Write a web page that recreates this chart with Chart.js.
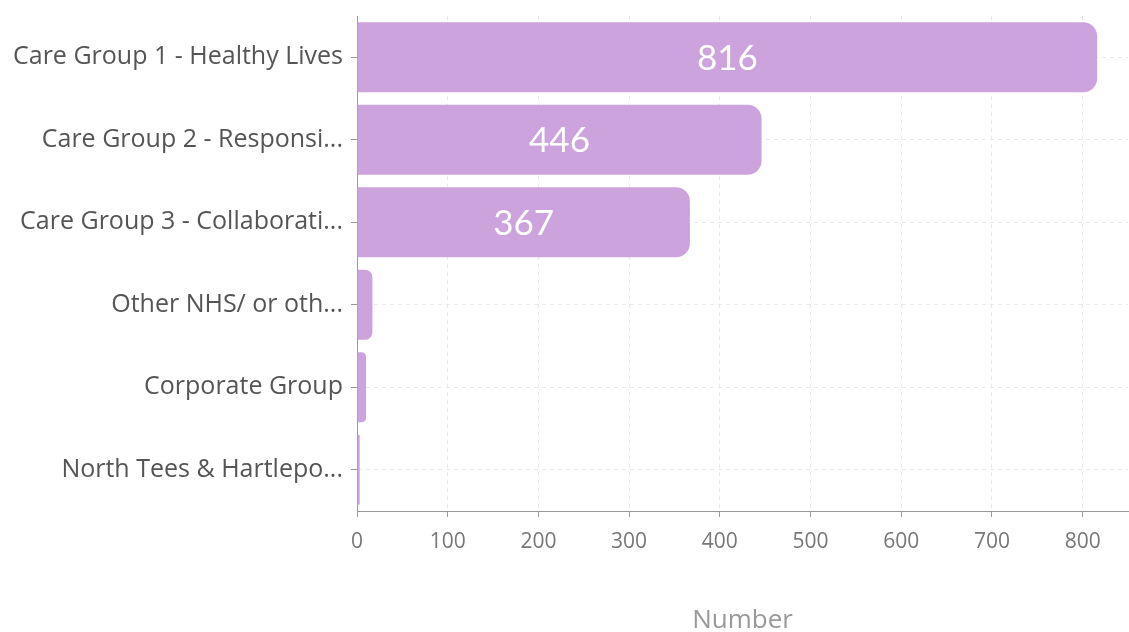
<!DOCTYPE html>
<html>
<head>
<meta charset="utf-8">
<script src="https://cdn.jsdelivr.net/npm/chart.js@4"></script>
<style>
  html, body { margin: 0; padding: 0; background: #fff; }
  #wrap { width: 1129px; height: 632px; }
</style>
</head>
<body>
<div id="wrap"><canvas id="groupChart"></canvas></div>
<script>
const groups = [
  'Care Group 1 - Healthy Lives',
  'Care Group 2 - Responsi...',
  'Care Group 3 - Collaborati...',
  'Other NHS/ or oth...',
  'Corporate Group',
  'North Tees & Hartlepo...'
];
const counts = [816, 446, 367, 17, 10, 3];
const xTicks = [0, 100, 200, 300, 400, 500, 600, 700, 800];
const axisMax = 850;

// writes the count inside the bars that are wide enough to hold it
const barValues = {
  id: 'barValues',
  afterDatasetsDraw(chart) {
    const ctx = chart.ctx;
    const meta = chart.getDatasetMeta(0);
    ctx.save();
    ctx.fillStyle = '#ffffff';
    ctx.font = '400 35px Lato, "Open Sans", sans-serif';
    ctx.textAlign = 'center';
    ctx.textBaseline = 'middle';
    meta.data.forEach((bar, i) => {
      const w = bar.x - bar.base;
      if (w < 80) return;
      ctx.fillText(String(counts[i]), (bar.x + bar.base) / 2, bar.y + 1);
    });
    ctx.restore();
  }
};

const ctx = document.getElementById('groupChart').getContext('2d');
new Chart(ctx, {
  type: 'bar',
  data: {
    labels: groups,
    datasets: [{
      label: 'Number',
      data: counts,
      backgroundColor: '#cda3de',
      borderWidth: 0,
      borderRadius: { topLeft: 0, bottomLeft: 0, topRight: 14, bottomRight: 14 },
      borderSkipped: false,
      barPercentage: 0.85,
      categoryPercentage: 1
    }]
  },
  options: {
    indexAxis: 'y',
    responsive: true,
    maintainAspectRatio: false,
    animation: false,
    layout: { padding: { top: 16, right: 1, left: 0, bottom: 0 } },
    plugins: {
      legend: { display: false },
      tooltip: { enabled: false }
    },
    scales: {
      x: {
        min: 0,
        max: axisMax,
        afterBuildTicks(scale) {
          scale.ticks = xTicks.map(v => ({ value: v }));
        },
        afterFit(scale) { scale.height = 121; },
        ticks: {
          autoSkip: false,
          maxRotation: 0,
          color: '#777',
          padding: 12,
          font: { family: '"Open Sans", sans-serif', size: 21 }
        },
        grid: {
          color: '#e9e9e9',
          tickColor: '#999',
          tickLength: 6
        },
        border: { display: true, color: '#999', dash: [4, 4], width: 1 },
        title: {
          display: true,
          text: 'Number',
          color: '#999',
          font: { family: '"Open Sans", sans-serif', size: 26, lineHeight: 0.85 },
          padding: { top: 20, bottom: 0 }
        }
      },
      y: {
        afterFit(scale) {
          scale.width = 357;
          scale.paddingTop = 0;
          scale.paddingBottom = 0;
        },
        ticks: {
          color: '#555',
          padding: 8,
          font: { family: '"Open Sans", sans-serif', size: 25 }
        },
        grid: {
          offset: false,
          color: '#e9e9e9',
          tickColor: '#999',
          tickLength: 6
        },
        border: { display: true, color: '#999', dash: [4, 4], width: 1 }
      }
    }
  },
  plugins: [barValues]
});
</script>
</body>
</html>
